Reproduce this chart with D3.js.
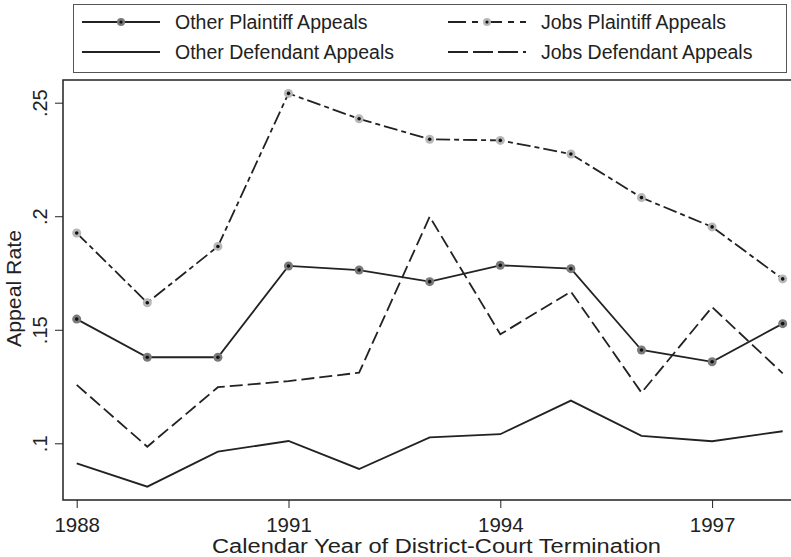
<!DOCTYPE html>
<html><head><meta charset="utf-8">
<script src="https://cdn.jsdelivr.net/npm/d3@7"></script>
<style>body{margin:0;background:#fff}svg{display:block}text{font-family:"Liberation Sans",Arial,sans-serif;fill:#222}</style>
</head><body>
<svg id="c" width="791" height="557"></svg>
<script>
const years = [1988,1989,1990,1991,1992,1993,1994,1995,1996,1997,1998];
const otherPlaintiff = [0.1547,0.1379,0.1379,0.1781,0.1763,0.1712,0.1784,0.1769,0.1411,0.1359,0.1527];
const jobsPlaintiff = [0.1926,0.1619,0.1867,0.2541,0.2429,0.2339,0.2334,0.2274,0.2082,0.1953,0.1724];
const otherDefendant = [0.0912,0.0809,0.0963,0.1010,0.0887,0.1026,0.1040,0.1188,0.1033,0.1009,0.1053];
const jobsDefendant = [0.1257,0.0985,0.1247,0.1274,0.1311,0.1998,0.1480,0.1668,0.1223,0.1600,0.1308];
const yTicks = [0.1,0.15,0.2,0.25];
const yTickLabels = [".1",".15",".2",".25"];
const xTicks = [1988,1991,1994,1997];
const seriesNames = ["Other Plaintiff Appeals","Jobs Plaintiff Appeals","Other Defendant Appeals","Jobs Defendant Appeals"];

const svg = d3.select("#c");
const L=63, R=797, T=80, B=500;
const x = d3.scaleLinear().domain([1988,1998]).range([76.7,782.7]);
const y = d3.scaleLinear().domain([0.1,0.25]).range([443.3,102.7]);
const ink="#222";

const styles = [
  {data:otherPlaintiff, dash:null, marker:"#7a7a7a"},
  {data:jobsPlaintiff, dash:"14,4,5,4", marker:"#b8b8b8"},
  {data:otherDefendant, dash:null, marker:null},
  {data:jobsDefendant, dash:"13,5", marker:null}
];

// frame
svg.append("path").attr("d",`M${R},${T}H${L}V${B}H${R}`).attr("fill","none").attr("stroke",ink).attr("stroke-width",1.5);

// axes
const yAxis = svg.append("g").attr("transform",`translate(${L},0)`)
  .call(d3.axisLeft(y).tickValues(yTicks).tickSize(8).tickFormat((d,i)=>yTickLabels[i]));
yAxis.select(".domain").remove();
yAxis.selectAll("line").attr("stroke",ink).attr("stroke-width",1);
yAxis.selectAll("text").attr("x",null).attr("dy",null).attr("y",0)
  .attr("text-anchor","middle")
  .attr("transform",`translate(-16,0) rotate(-90)`)
  .style("font-size","20px").style("font-family","Liberation Sans, Arial, sans-serif").attr("fill",ink);

const xAxis = svg.append("g").attr("transform",`translate(0,${B})`)
  .call(d3.axisBottom(x).tickValues(xTicks).tickSize(8).tickFormat(d3.format("d")));
xAxis.select(".domain").remove();
xAxis.selectAll("line").attr("stroke",ink).attr("stroke-width",1);
xAxis.selectAll("text").attr("dy",null).attr("y",31.5)
  .style("font-size","20.5px").style("font-family","Liberation Sans, Arial, sans-serif").attr("fill",ink);

svg.append("text").attr("x",436.5).attr("y",553).attr("text-anchor","middle").style("font-size","19.5px")
  .attr("textLength",449).attr("lengthAdjust","spacingAndGlyphs").text("Calendar Year of District-Court Termination");
svg.append("text").attr("transform",`translate(21,288.5) rotate(-90)`).attr("text-anchor","middle").style("font-size","20px")
  .attr("textLength",117).attr("lengthAdjust","spacingAndGlyphs").text("Appeal Rate");

// lines
const line = d3.line().x((d,i)=>x(years[i])).y(d=>y(d));
styles.forEach(s=>{
  svg.append("path").datum(s.data).attr("d",line).attr("fill","none")
    .attr("stroke",ink).attr("stroke-width",1.8).attr("stroke-dasharray",s.dash)
    .attr("stroke-linejoin","miter");
  if(s.marker){
    const g=svg.append("g");
    g.selectAll("circle.o").data(s.data).join("circle").attr("cx",(d,i)=>x(years[i])).attr("cy",d=>y(d)).attr("r",4.5).attr("fill",s.marker);
    g.selectAll("circle.i").data(s.data).join("circle").attr("cx",(d,i)=>x(years[i])).attr("cy",d=>y(d)).attr("r",1.8).attr("fill","#111");
  }
});

// legend
svg.append("rect").attr("x",73.5).attr("y",4.5).attr("width",713).attr("height",68).attr("fill","#fff").attr("stroke","#555").attr("stroke-width",1);
const lpos=[[82,22],[448,22],[82,52],[448,52]];
styles.forEach((s,i)=>{
  const [lx,ly]=lpos[i];
  svg.append("line").attr("x1",lx).attr("x2",lx+78).attr("y1",ly).attr("y2",ly).attr("stroke",ink).attr("stroke-width",1.8)
    .attr("stroke-dasharray",s.dash? (i===1?"18,6,6,6":"20,5"):null);
  if(s.marker){
    svg.append("circle").attr("cx",lx+39).attr("cy",ly).attr("r",4).attr("fill",s.marker);
    svg.append("circle").attr("cx",lx+39).attr("cy",ly).attr("r",1.6).attr("fill","#111");
  }
  svg.append("text").attr("x",lx+93).attr("y",ly+7).style("font-size","19.5px").text(seriesNames[i]);
});
</script>
</body></html>
